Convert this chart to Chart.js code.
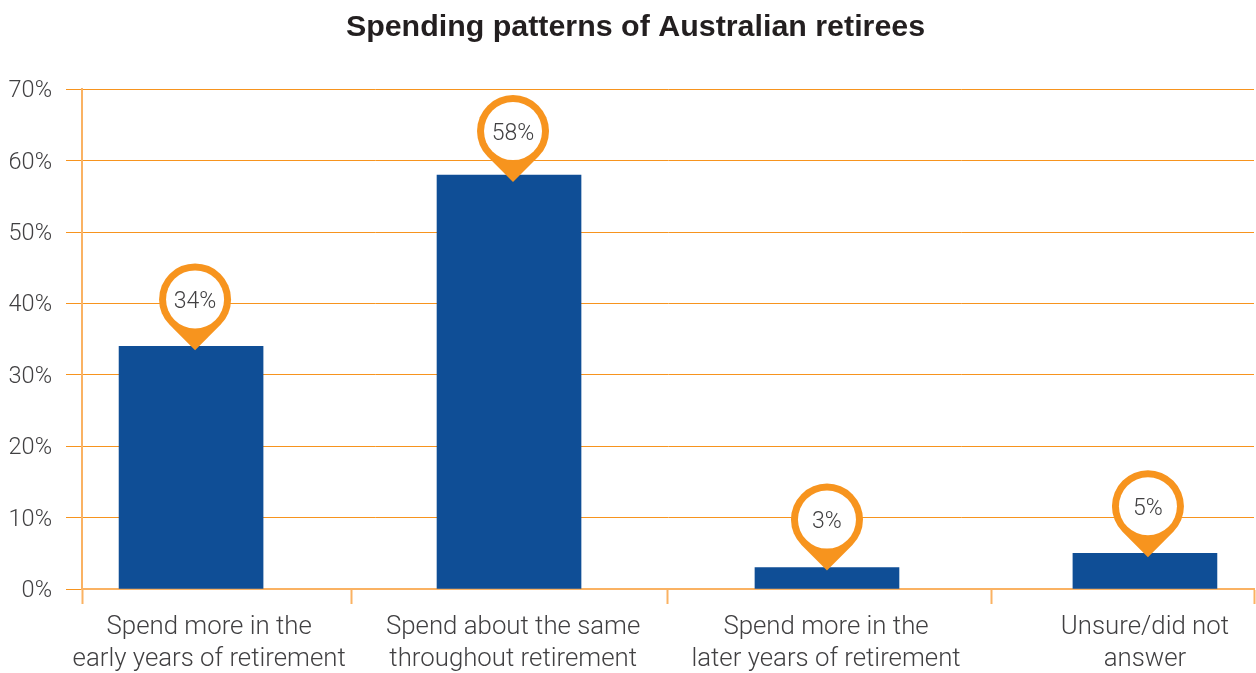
<!DOCTYPE html>
<html lang="en">
<head>
    <meta charset="UTF-8">
    <title>Spending patterns of Australian retirees</title>
    <script src="https://cdn.jsdelivr.net/npm/chart.js"></script>
    <style>
        html, body { margin: 0; padding: 0; background: #fff; overflow: hidden; }
        #wrap { width: 1256px; height: 673px; }
    </style>
</head>
<body>
    <div id="wrap"><canvas id="myChart"></canvas></div>

    <script>
        const chartTitle = "Spending patterns of Australian retirees";
        const categories = [
            ["Spend more in the", "early years of retirement"],
            ["Spend about the same", "throughout retirement"],
            ["Spend more in the", "later years of retirement"],
            ["Unsure/did not", "answer"]
        ];
        const values = [34, 58, 3, 5];
        const yTicks = [0, 10, 20, 30, 40, 50, 60, 70];
        // Separators on the category axis, they are not evenly spaced
        const xSeparators = [-0.343, 0.506, 1.497, 2.516, 3.343];
        // Where each category label sits on the x axis
        const labelAt = [0.057, 1.013, 1.997, 3];

        const ORANGE = "#f7941e";
        const ORANGE_LIGHT = "#fab263";
        const BLUE = "#0f4e96";
        const TEXT = "#414042";
        const LIGHT_FONT = "Roboto, 'Liberation Sans', sans-serif";

        // Hand placed nudges for the pins, they are not quite centred on the bars
        const pinDx = [4, 4, 0, 3];
        const pinDy = [-1, 2, -2, -1];

        // Orange map pin sitting on top of each bar, with the value inside
        const pinPlugin = {
            id: "pins",
            afterLayout(chart) {
                // title is centred a little right of the canvas middle
                chart.titleBlock.left += 17;
            },
            afterDatasetsDraw(chart) {
                const ctx = chart.ctx;
                const x = chart.scales.x;
                const y = chart.scales.y;
                const R = 36, r = 29;
                values.forEach((v, i) => {
                    const px = x.getPixelForValue(i) + pinDx[i];
                    const cy = y.getPixelForValue(v) - 46 + pinDy[i];
                    ctx.save();
                    ctx.fillStyle = ORANGE;
                    ctx.beginPath();
                    ctx.arc(px, cy, R, Math.PI * 0.75, Math.PI * 0.25);
                    ctx.lineTo(px, cy + R * Math.SQRT2);
                    ctx.closePath();
                    ctx.fill();
                    ctx.fillStyle = "#fff";
                    ctx.beginPath();
                    ctx.arc(px, cy, r, 0, Math.PI * 2);
                    ctx.fill();
                    ctx.fillStyle = TEXT;
                    ctx.font = "300 23px " + LIGHT_FONT;
                    ctx.textAlign = "center";
                    ctx.textBaseline = "middle";
                    ctx.fillText(v + "%", px, cy + 3);
                    ctx.restore();
                });
            }
        };

        new Chart(document.getElementById("myChart"), {
            type: "bar",
            data: {
                datasets: [{
                    data: values.map((v, i) => ({ x: i, y: v })),
                    backgroundColor: BLUE,
                    barThickness: 144
                }]
            },
            options: {
                responsive: true,
                maintainAspectRatio: false,
                animation: false,
                layout: { padding: { left: 0, right: 2, top: 0, bottom: 0 } },
                plugins: {
                    legend: { display: false },
                    tooltip: { enabled: false },
                    title: {
                        display: true,
                        text: chartTitle,
                        color: "#231f20",
                        font: { family: "'Liberation Sans', sans-serif", size: 30.4, weight: "bold", lineHeight: 1.2 },
                        padding: { top: 9, bottom: 44 }
                    }
                },
                scales: {
                    x: {
                        type: "linear",
                        offset: false,
                        min: xSeparators[0],
                        max: xSeparators[xSeparators.length - 1],
                        afterBuildTicks(axis) {
                            axis.ticks = xSeparators.concat(labelAt)
                                .sort((a, b) => a - b)
                                .map(value => ({ value }));
                        },
                        afterFit(axis) {
                            axis.height = 84;
                            // last tick has no label, so no room is needed for it
                            axis.paddingRight = 0;
                        },
                        border: { color: ORANGE_LIGHT, width: 2 },
                        grid: {
                            offset: false,
                            drawOnChartArea: false,
                            tickLength: 15,
                            tickColor: ORANGE_LIGHT,
                            tickWidth: c => (c.tick && xSeparators.includes(c.tick.value)) ? 2 : 0
                        },
                        ticks: {
                            autoSkip: false,
                            maxRotation: 0,
                            padding: 8,
                            color: TEXT,
                            font: { family: LIGHT_FONT, weight: 300, size: 25.8, lineHeight: 1.24 },
                            callback: v => categories[labelAt.indexOf(v)] || ""
                        }
                    },
                    y: {
                        min: 0,
                        max: 70,
                        afterBuildTicks(axis) {
                            axis.ticks = yTicks.map(value => ({ value }));
                        },
                        afterFit(axis) { axis.width = 82; },
                        border: { color: ORANGE_LIGHT, width: 2 },
                        grid: { color: ORANGE, lineWidth: 1, tickLength: 16, tickColor: ORANGE },
                        ticks: {
                            padding: 14,
                            labelOffset: 2,
                            color: TEXT,
                            font: { family: LIGHT_FONT, weight: 300, size: 23.5 },
                            callback: v => v + "%"
                        }
                    }
                }
            },
            plugins: [pinPlugin]
        });
    </script>
</body>
</html>
